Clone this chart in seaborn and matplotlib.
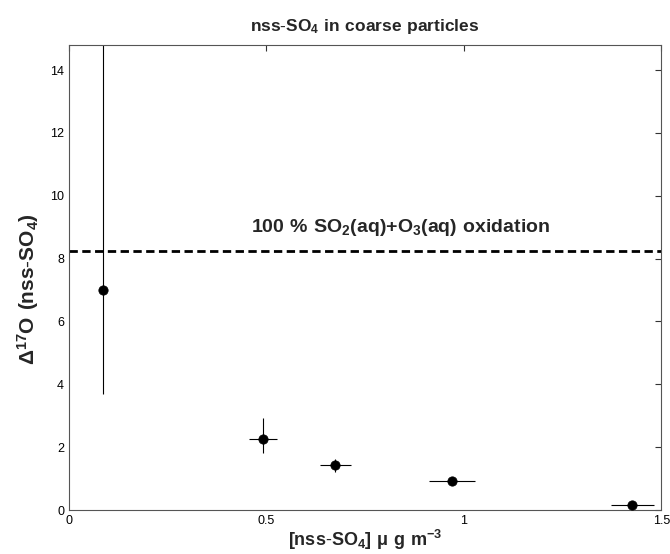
import numpy as np
import pandas as pd
import matplotlib
matplotlib.use('Agg')
import matplotlib.pyplot as plt
import seaborn as sns

# values
conc = [0.087, 0.491, 0.674, 0.970, 1.427]
conc_err = [0.0, 0.036, 0.039, 0.058, 0.054]
d17o = [7.0, 2.25, 1.42, 0.93, 0.17]
d17o_lo = [3.3, 0.45, 0.2, 0.08, 0.0]
d17o_hi = [8.5, 0.67, 0.2, 0.08, 0.0]
o3_line = 8.25

df = pd.DataFrame({'conc': conc, 'd17o': d17o})

sns.set_theme(style='white')
plt.rcParams['font.family'] = ['Liberation Sans', 'DejaVu Sans']
plt.rcParams['mathtext.fontset'] = 'custom'
plt.rcParams['mathtext.rm'] = 'Liberation Sans'
plt.rcParams['mathtext.bf'] = 'Liberation Sans:bold'
plt.rcParams['mathtext.default'] = 'regular'

fig = plt.figure(figsize=(6.7, 5.54), dpi=100)
ax = fig.add_axes([0.103, 0.0794, 0.884, 0.8396])

ax.errorbar(conc, d17o, xerr=conc_err, yerr=[d17o_lo, d17o_hi],
            fmt='none', ecolor='black', elinewidth=0.8, capsize=0)
sns.scatterplot(data=df, x='conc', y='d17o', color='black', s=45,
                edgecolor='black', zorder=3, ax=ax, legend=False)

ax.axhline(o3_line, color='black', linestyle='--', linewidth=2, dashes=(3, 1.6))
ax.text(0.462, 8.85, r'$\mathbf{100\ \%\ SO_2(aq){+}O_3(aq)\ oxidation}$',
        fontsize=14, fontweight='bold')

ax.set_xlim(0, 1.5)
ax.set_ylim(0, 14.8)
ax.set_xticks([0, 0.5, 1, 1.5])
ax.set_xticklabels(['0', '0.5', '1', '1.5'])
ax.set_yticks(np.arange(0, 15, 2))
ax.tick_params(direction='in', length=4, width=0.8, labelsize=9,
               top=True, right=True, colors='#333333', labelcolor='black')
for sp in ax.spines.values():
    sp.set_color('#555555')
    sp.set_linewidth(0.8)

ax.set_title(r'$\mathbf{nss\text{-}SO_4\ in\ coarse\ particles}$', fontsize=12.5, pad=10)
ax.set_xlabel(r'$\mathbf{[nss\text{-}SO_4]\ \mu\ g\ m^{-3}}$', fontsize=13, labelpad=1)
ax.set_ylabel(r'$\mathbf{\Delta^{17}O\ (nss\text{-}SO_4)}$', fontsize=15)
ax.yaxis.set_label_coords(-0.048, 0.475)

fig.savefig('out.png', dpi=100)
